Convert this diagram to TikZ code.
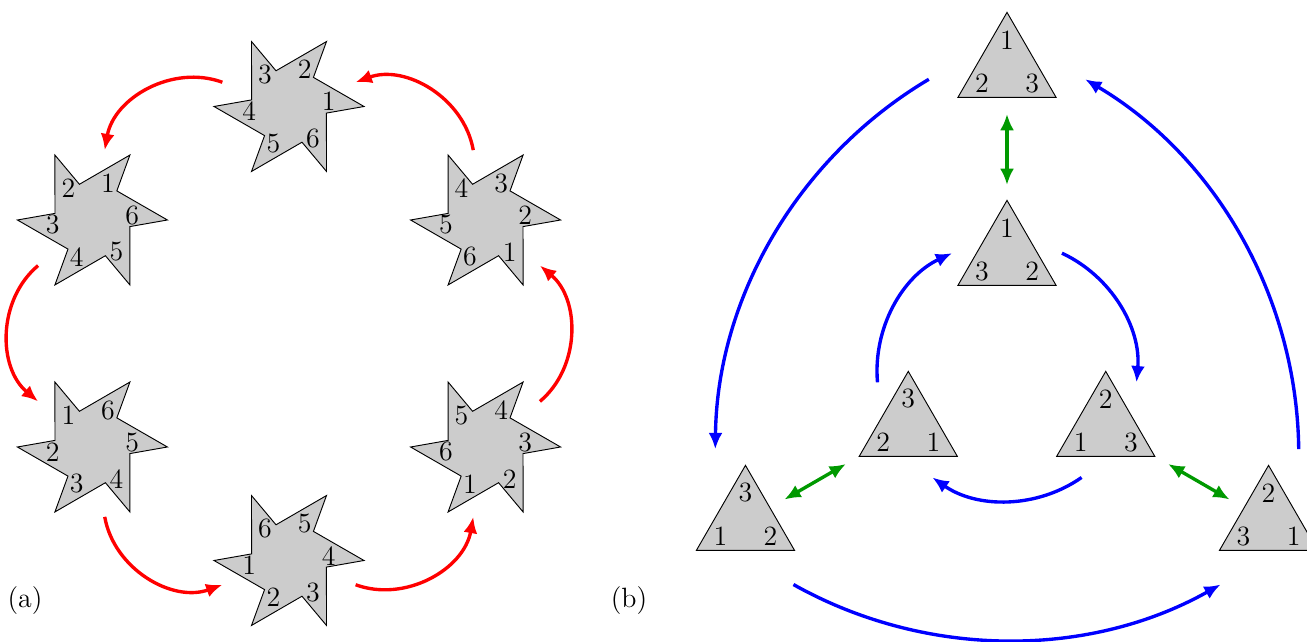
\documentclass[tikz,border=0pt]{standalone}
\usetikzlibrary{arrows.meta,calc,shapes.geometric}
\begin{document}
\begin{tikzpicture}[x=0.43pt,y=0.43pt,
  every node/.style={font=\fontsize{12}{14.4}\selectfont},
  starbody/.style={fill=gray!40,draw=black,line width=0.4pt},
  starnode/.style={circle,minimum size=61pt,inner sep=0pt,outer sep=0pt},
  tri/.style={regular polygon,regular polygon sides=3,minimum size=48.7pt,inner sep=0pt,outer sep=0pt,fill=gray!40,draw=black,line width=0.4pt},
  redarr/.style={-{Latex[length=7pt,width=6pt]},red,line width=1.45pt},
  bluearr/.style={-{Latex[length=7pt,width=6pt]},blue,line width=1.45pt},
  greenarr/.style={{Latex[length=7pt,width=6pt]}-{Latex[length=7pt,width=6pt]},green!60!black,line width=1.45pt},
  lab/.style={inner sep=0pt}]
\useasboundingbox (0,0) rectangle (1307,-642);

% ---------- panel (a) ----------
\coordinate (H) at (289,-333.5);
\foreach \j in {0,...,5} {
  \node[starnode] (S\j) at ($(H)+({90+60*\j}:227)$) {};
  \draw[starbody] ($(S\j.center)+(0:75)$)
    \foreach \k in {0,...,4} { -- ($(S\j.center)+({60*\k+50}:38)$) -- ($(S\j.center)+({60*\k+60}:75)$) }
    -- ($(S\j.center)+(350:38)$) -- cycle;
  \foreach \k in {1,...,6} {
    \node[lab] (S\j l\k) at ($(S\j.center)+({60*(\k-1+\j)+7}:40)$) {\k};
  }
}
\foreach \a/\b in {0/1,1/2,2/3,3/4,4/5,5/0} {
  \draw[redarr] (S\a) to[bend right=50] (S\b);
}
\node (la) at (25,-601) {(a)};

% ---------- panel (b) ----------
\coordinate (C) at (1007,-371);
\node[tri] (T1) at ($(C)+(90:302)$) {};
\node[tri] (T5) at ($(C)+(210:302)$) {};
\node[tri] (T6) at ($(C)+(330:302)$) {};
\node[tri] (T2) at ($(C)+(90:114)$) {};
\node[tri] (T3) at ($(C)+(210:114)$) {};
\node[tri] (T4) at ($(C)+(330:114)$) {};
\foreach \t/\p/\q/\r in {T1/1/2/3, T2/1/3/2, T3/3/2/1, T4/2/1/3, T5/3/1/2, T6/2/3/1} {
  \node[lab] (\t t) at ($(\t.center)+(90:29)$) {\p};
  \node[lab] (\t l) at ($(\t.center)+(210:29)$) {\q};
  \node[lab] (\t r) at ($(\t.center)+(330:29)$) {\r};
}
% green double arrows
\foreach \ang/\n in {90/1,210/2,330/3} {
  \coordinate (g\n a) at ($(C)+(\ang:257)$);
  \coordinate (g\n b) at ($(C)+(\ang:186)$);
  \draw[greenarr] (g\n a) -- (g\n b);
}
% outer blue arcs
\foreach \s/\e/\n in {105/195/1,225/315/2,345/435/3} {
  \coordinate (o\n s) at ($(C)+(\s:302)$);
  \coordinate (o\n e) at ($(C)+(\e:302)$);
  \draw[bluearr] (o\n s) to[bend right=29.3,looseness=0.91] (o\n e);
}
% inner blue arcs
\foreach \s/\e/\n in {185/115/1,65/-5/2,305/235/3} {
  \coordinate (i\n s) at ($(C)+(\s:130)$);
  \coordinate (i\n e) at ($(C)+(\e:130)$);
  \draw[bluearr] (i\n s) to[bend left=35,looseness=0.936] (i\n e);
}
\node (lb) at (629,-601) {(b)};
\end{tikzpicture}
\end{document}
